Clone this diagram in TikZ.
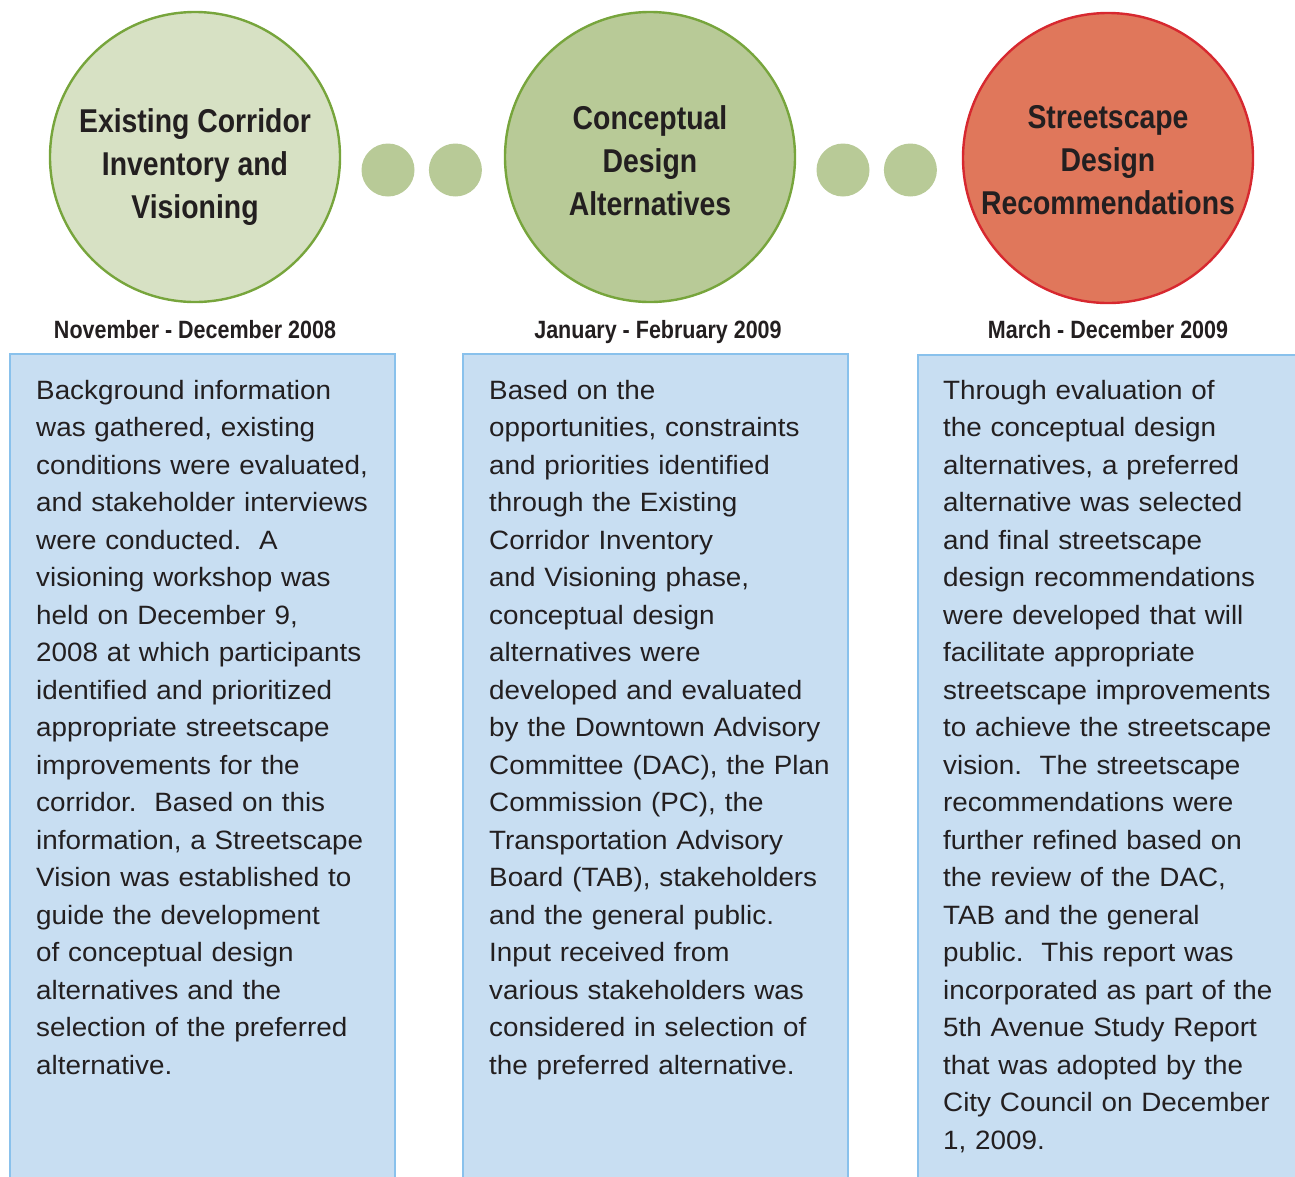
\documentclass[tikz,border=0pt]{standalone}
\usepackage{fontspec}
\usepackage{tikz}
\usetikzlibrary{positioning}
\newfontfamily\bodyfont[FakeStretch=1.05]{Liberation Sans}
\newfontfamily\headfont[FakeStretch=0.86]{Liberation Sans}

\definecolor{inkgray}{HTML}{231F20}
\definecolor{paleolive}{HTML}{D7E1C4}
\definecolor{midolive}{HTML}{B8CA97}
\definecolor{olivestroke}{HTML}{77A53C}
\definecolor{salmon}{HTML}{E0775B}
\definecolor{redstroke}{HTML}{D7282F}
\definecolor{skyfill}{HTML}{C8DEF2}
\definecolor{skyline}{HTML}{89C1EC}

\begin{document}
\begin{tikzpicture}[
    x=1pt, y=-1pt,
    phase/.style={draw,circle,minimum size=290pt,inner sep=0pt,line width=2.4pt},
    phasetitle/.style={align=center,inner sep=0pt,text=inkgray,
      font=\headfont\bfseries\fontsize{33}{43}\selectfont},
    datelabel/.style={anchor=base,inner sep=0pt,text=inkgray,
      font=\headfont\bfseries\fontsize{25}{28}\selectfont},
    stepdot/.style={circle,fill=midolive,minimum size=53pt,inner sep=0pt},
    infobox/.style={draw=skyline,fill=skyfill,line width=2.4pt,anchor=north west,
      minimum width=385pt,minimum height=850pt,inner sep=0pt},
    infotext/.style={anchor=north west,align=left,text width=370pt,inner sep=0pt,
      text=inkgray,font=\bodyfont\fontsize{26.5}{37.5}\selectfont}
    ]

    \clip (0,0) rectangle (1295,1176);

    % phases
    \node[phase, fill=paleolive, draw=olivestroke] (ph1) at (195,157) {};
    \node[phase, fill=midolive, draw=olivestroke] (ph2) at (650,157) {};
    \node[phase, fill=salmon, draw=redstroke] (ph3) at (1108,158) {};

    \node[phasetitle] (t1) at ([yshift=-10pt]ph1.center) {Existing Corridor\\Inventory and\\Visioning};
    \node[phasetitle] (t2) at ([yshift=-4pt]ph2.center) {Conceptual\\Design\\Alternatives};
    \node[phasetitle] (t3) at ([yshift=-2pt]ph3.center) {Streetscape\\Design\\Recommendations};

    % dots between phases
    \node[stepdot] (d1a) at (388,170) {};
    \node[stepdot, right=14pt of d1a] (d1b) {};
    \node[stepdot] (d2a) at (843,170) {};
    \node[stepdot, right=14pt of d2a] (d2b) {};

    % dates
    \node[datelabel] (date1) at ([yshift=-181pt]ph1.center) {November - December 2008};
    \node[datelabel] (date2) at ([xshift=8pt,yshift=-181pt]ph2.center) {January - February 2009};
    \node[datelabel] (date3) at ([yshift=-180pt]ph3.center) {March - December 2009};

    % description boxes
    \node[infobox] (box1) at (9,353) {};
    \node[infobox] (box2) at (462,353) {};
    \node[infobox] (box3) at (917,354) {};

    \node[infotext, below right=27pt and 27pt of box1.north west] (txt1) {%
      Background information\\
      was gathered, existing\\
      conditions were evaluated,\\
      and stakeholder interviews\\
      were conducted.\ \ A\\
      visioning workshop was\\
      held on December 9,\\
      2008 at which participants\\
      identified and prioritized\\
      appropriate streetscape\\
      improvements for the\\
      corridor.\ \ Based on this\\
      information, a Streetscape\\
      Vision was established to\\
      guide the development\\
      of conceptual design\\
      alternatives and the\\
      selection of the preferred\\
      alternative.};

    \node[infotext, below right=27pt and 27pt of box2.north west] (txt2) {%
      Based on the\\
      opportunities, constraints\\
      and priorities identified\\
      through the Existing\\
      Corridor Inventory\\
      and Visioning phase,\\
      conceptual design\\
      alternatives were\\
      developed and evaluated\\
      by the Downtown Advisory\\
      Committee (DAC), the Plan\\
      Commission (PC), the\\
      Transportation Advisory\\
      Board (TAB), stakeholders\\
      and the general public.\\
      Input received from\\
      various stakeholders was\\
      considered in selection of\\
      the preferred alternative.};

    \node[infotext, below right=26pt and 26pt of box3.north west] (txt3) {%
      Through evaluation of\\
      the conceptual design\\
      alternatives, a preferred\\
      alternative was selected\\
      and final streetscape\\
      design recommendations\\
      were developed that will\\
      facilitate appropriate\\
      streetscape improvements\\
      to achieve the streetscape\\
      vision.\ \ The streetscape\\
      recommendations were\\
      further refined based on\\
      the review of the DAC,\\
      TAB and the general\\
      public.\ \ This report was\\
      incorporated as part of the\\
      5th Avenue Study Report\\
      that was adopted by the\\
      City Council on December\\
      1, 2009.};

\end{tikzpicture}
\end{document}
